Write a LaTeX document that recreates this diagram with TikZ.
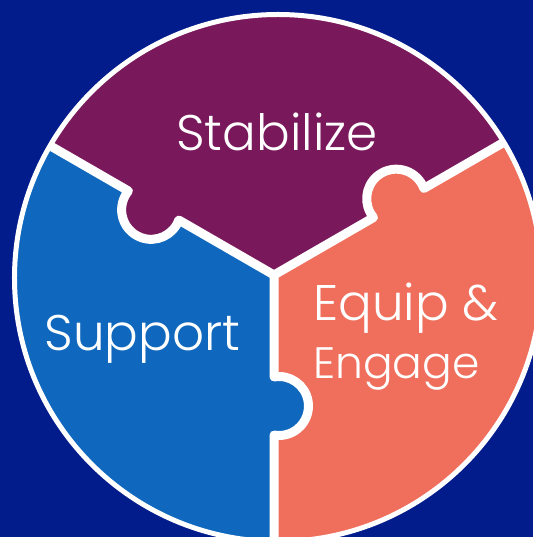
\documentclass[tikz,border=0pt]{standalone}
\usepackage{fontspec}
\newfontfamily\labfont{Poppins Light}
\begin{document}
\begin{tikzpicture}[x=1pt,y=1pt,
  lab/.style={text=white, inner sep=0pt, font=\labfont\fontsize{50}{60}\selectfont},
  labsmall/.style={text=white, inner sep=0pt, font=\labfont\fontsize{44}{52}\selectfont},
  divider/.style={draw=white, line width=9, line cap=round, line join=round}]
\definecolor{bgblue}{RGB}{3,28,140}
\definecolor{purp}{RGB}{122,24,92}
\definecolor{blu}{RGB}{16,104,190}
\definecolor{cor}{RGB}{240,110,92}
\useasboundingbox (-274,-262) rectangle (259,275);
\fill[bgblue] (-274,-262) rectangle (259,275);
\coordinate (J) at (0,0);
\coordinate (C) at (4,-3);
\begin{scope}
  \clip (C) circle (263.5);
  \fill[purp] (J) -- (150:600) -- (90:600) -- (30:600) -- cycle;
  \fill[blu] (J) -- (270:600) -- (210:600) -- (150:600) -- cycle;
  \fill[cor] (J) -- (30:600) -- (-30:600) -- (270:600) -- cycle;
  % knob fills
  \begin{scope}[rotate=150] \fill[purp] (139,5) circle (29.5); \end{scope}
  \begin{scope}[rotate=30]  \fill[cor]  (144,5) circle (29.5); \end{scope}
  \begin{scope}[rotate=270] \fill[blu]  (131,5) circle (29.5); \end{scope}
  % dividers
  \begin{scope}[rotate=150]
    \draw[divider] (J) -- ({139-29.07},0) arc[start angle=189.75, end angle=-9.75, radius=29.5] -- (600,0);
  \end{scope}
  \begin{scope}[rotate=30]
    \draw[divider] (J) -- ({144-29.07},0) arc[start angle=189.75, end angle=-9.75, radius=29.5] -- (600,0);
  \end{scope}
  \begin{scope}[rotate=270]
    \draw[divider] (J) -- ({131-29.07},0) arc[start angle=189.75, end angle=-9.75, radius=29.5] -- (600,0);
  \end{scope}
\end{scope}
\draw[white, line width=5] (C) circle (263.5);
% labels
\node[lab, anchor=base] (stab) at (3,124) {Stabilize};
\node[lab, anchor=base] (supp) at (-131.5,-75) {Support};
\node[lab, anchor=base west] (equip) at (39,-46) {Equip \&};
\node[labsmall, anchor=base west] (eng) at (39,-103) {Engage};
\end{tikzpicture}
\end{document}
